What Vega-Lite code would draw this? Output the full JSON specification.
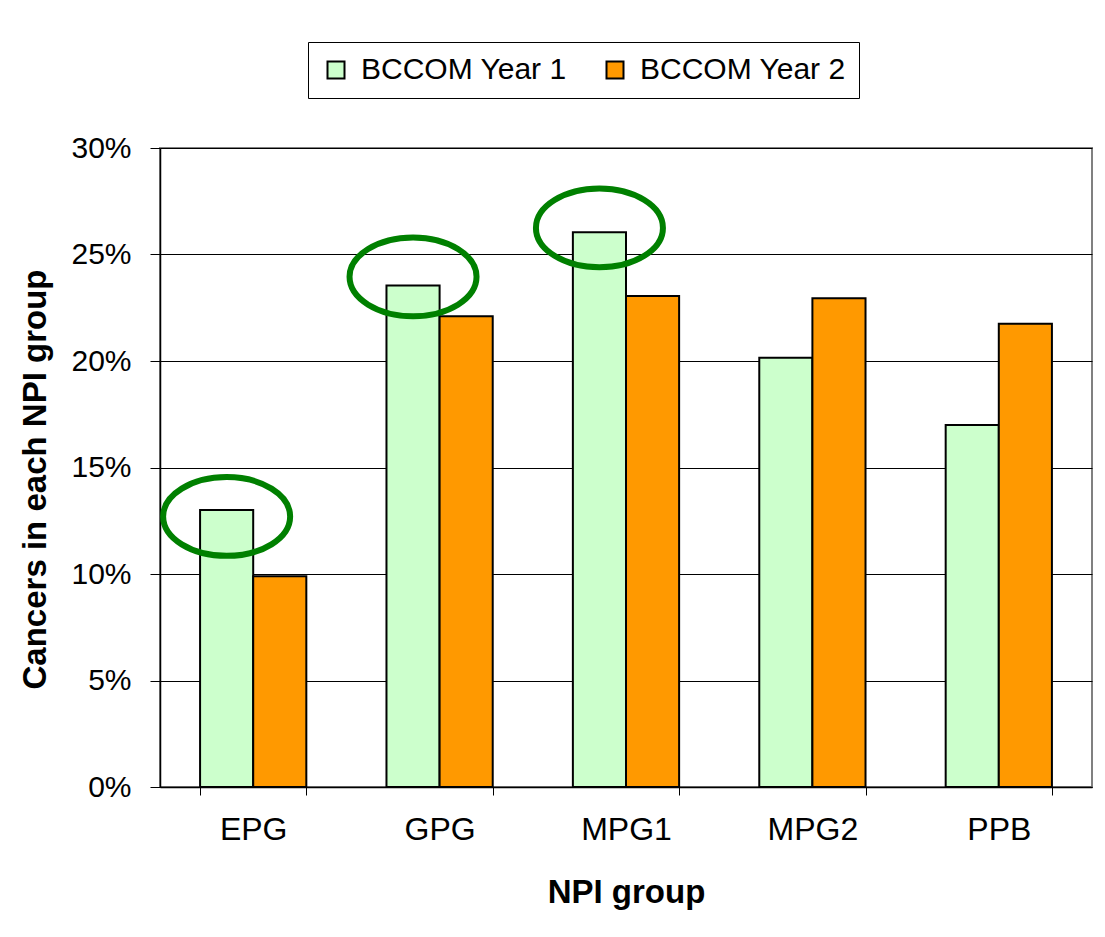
{
  "$schema": "https://vega.github.io/schema/vega-lite/v6.json",
  "width": 932,
  "height": 639,
  "autosize": {"type": "none"},
  "padding": {"left": 160, "top": 148, "right": 13, "bottom": 150},
  "background": "white",
  "config": {
    "font": "Liberation Sans",
    "view": {"stroke": "#808080", "strokeWidth": 2}
  },
  "datasets": {
    "bars": [
      {"group": "EPG", "series": "BCCOM Year 1", "value": 0.130},
      {"group": "EPG", "series": "BCCOM Year 2", "value": 0.099},
      {"group": "GPG", "series": "BCCOM Year 1", "value": 0.2355},
      {"group": "GPG", "series": "BCCOM Year 2", "value": 0.221},
      {"group": "MPG1", "series": "BCCOM Year 1", "value": 0.2605},
      {"group": "MPG1", "series": "BCCOM Year 2", "value": 0.2305},
      {"group": "MPG2", "series": "BCCOM Year 1", "value": 0.2015},
      {"group": "MPG2", "series": "BCCOM Year 2", "value": 0.2295},
      {"group": "PPB", "series": "BCCOM Year 1", "value": 0.170},
      {"group": "PPB", "series": "BCCOM Year 2", "value": 0.2175}
    ],
    "ellipses": [
      {"group": "EPG", "series": "BCCOM Year 1", "value": 0.127},
      {"group": "GPG", "series": "BCCOM Year 1", "value": 0.2395},
      {"group": "MPG1", "series": "BCCOM Year 1", "value": 0.2625}
    ]
  },
  "layer": [
    {
      "data": {"name": "bars"},
      "mark": {"type": "bar", "stroke": "black", "strokeWidth": 2},
      "encoding": {
        "x": {
          "field": "group",
          "type": "nominal",
          "sort": ["EPG", "GPG", "MPG1", "MPG2", "PPB"],
          "scale": {"paddingInner": 0.43, "paddingOuter": 0.215},
          "axis": {
            "title": "NPI group",
            "titleFontSize": 33,
            "titleFontWeight": "bold",
            "titleColor": "black",
            "titleX": 466,
            "titleY": 115,
            "titleAlign": "center",
            "titleBaseline": "alphabetic",
            "labelAngle": 0,
            "labelFontSize": 32,
            "labelColor": "black",
            "labelPadding": 19,
            "tickSize": 8,
            "tickColor": "black",
            "tickBand": "extent",
            "domainColor": "black",
            "domainWidth": 1.5,
            "grid": false
          }
        },
        "xOffset": {
          "field": "series",
          "type": "nominal",
          "scale": {"domain": ["BCCOM Year 1", "BCCOM Year 2"]}
        },
        "y": {
          "field": "value",
          "type": "quantitative",
          "scale": {"domain": [0, 0.3], "nice": false},
          "axis": {
            "title": "Cancers in each NPI group",
            "titleFontSize": 33,
            "titleFontWeight": "bold",
            "titleColor": "black",
            "titleAngle": -90,
            "titleX": -115,
            "titleY": 331,
            "titleAlign": "center",
            "titleBaseline": "alphabetic",
            "values": [0, 0.05, 0.1, 0.15, 0.2, 0.25, 0.3],
            "format": ".0%",
            "labelFontSize": 30,
            "labelColor": "black",
            "labelPadding": 19,
            "tickSize": 10,
            "tickColor": "black",
            "domainColor": "black",
            "domainWidth": 1.5,
            "grid": true,
            "gridColor": "black",
            "gridWidth": 1
          }
        },
        "color": {
          "field": "series",
          "type": "nominal",
          "scale": {"domain": ["BCCOM Year 1", "BCCOM Year 2"], "range": ["#CCFFCC", "#FF9900"]},
          "legend": {
            "title": null,
            "orient": "none",
            "legendX": 148,
            "legendY": -106,
            "direction": "horizontal",
            "labelFontSize": 30,
            "labelColor": "black",
            "labelLimit": 400,
            "labelOffset": 10,
            "symbolType": "square",
            "symbolSize": 289,
            "symbolStrokeColor": "black",
            "symbolStrokeWidth": 2,
            "symbolOpacity": 1,
            "strokeColor": "black",
            "fillColor": "white",
            "padding": 13,
            "columnPadding": 33
          }
        }
      }
    },
    {
      "data": {"name": "ellipses"},
      "mark": {
        "type": "point",
        "shape": "M-1,0A1,0.62,0,1,1,1,0A1,0.62,0,1,1,-1,0Z",
        "filled": false,
        "stroke": "#008000",
        "strokeWidth": 6,
        "size": 16129,
        "opacity": 1
      },
      "encoding": {
        "x": {"field": "group", "type": "nominal", "sort": ["EPG", "GPG", "MPG1", "MPG2", "PPB"]},
        "xOffset": {"field": "series", "type": "nominal"},
        "y": {"field": "value", "type": "quantitative"}
      }
    }
  ]
}
